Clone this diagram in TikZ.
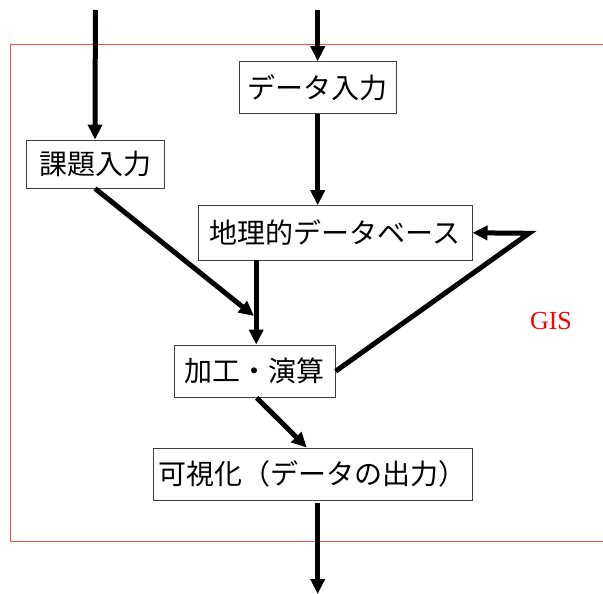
\documentclass[tikz,border=0pt]{standalone}
\usepackage{fontspec}
\usepackage{tikz}
\usetikzlibrary{arrows.meta,calc}
\newfontfamily\jpfont{Noto Sans CJK JP}
\newfontfamily\gisfont{Liberation Serif}
\begin{document}
\begin{tikzpicture}[x=1pt,y=-1pt,
    box/.style={draw=black!75, line width=0.9pt, fill=white, inner sep=0pt,
      font=\jpfont\fontsize{28}{28}\selectfont},
    arr/.style={line width=5pt, -{Triangle[length=15pt,width=14pt]}}]
  \useasboundingbox (0,0) rectangle (603,594);
  %gis frame
  \draw[red!70, line width=0.8pt] (10,44) rectangle (610,541);
  \node[red, font=\gisfont\fontsize{26}{26}\selectfont] (gis) at (551,321) {GIS};

  %boxes
  \node[box, minimum width=157.5pt, minimum height=51.6pt] (dat) at (317.7,87.5) {データ入力};
  \node[box, minimum width=138pt, minimum height=48pt] (kad) at (95,164) {課題入力};
  \node[box, minimum width=273.7pt, minimum height=54.3pt] (gdb) at (335.2,232.8) {地理的データベース};
  \node[box, minimum width=161pt, minimum height=52.3pt] (kak) at (254.7,371.2) {加工・演算};
  \node[box, minimum width=318.5pt, minimum height=52pt] (vis) at (312.8,474) {可視化（データの出力）};

  %free ends
  \coordinate (in1) at (95.4,10);
  \coordinate (in2) at (317.7,10);
  \coordinate (join) at (254,316);
  \coordinate (fb) at (529,233.3);
  \coordinate (out) at (317.7,594);

  %arrows
  \draw[arr] (in1) -- (kad.north);
  \draw[arr] (in2) -- (dat.north);
  \draw[arr] (dat.south) -- (dat.south |- gdb.north);
  \draw[arr] (kad.south) -- (join);
  \draw[arr] ([xshift=1.5pt]kak.north |- gdb.south) -- ([xshift=1.5pt]kak.north);
  \draw[arr] (kak.east) -- (fb) -- (gdb.east);
  \draw[arr] ([xshift=2pt]kak.south) -- ([xshift=-6pt]vis.north);
  \draw[arr] ([yshift=-2.5pt]vis.south -| in2) -- (out);
\end{tikzpicture}
\end{document}
